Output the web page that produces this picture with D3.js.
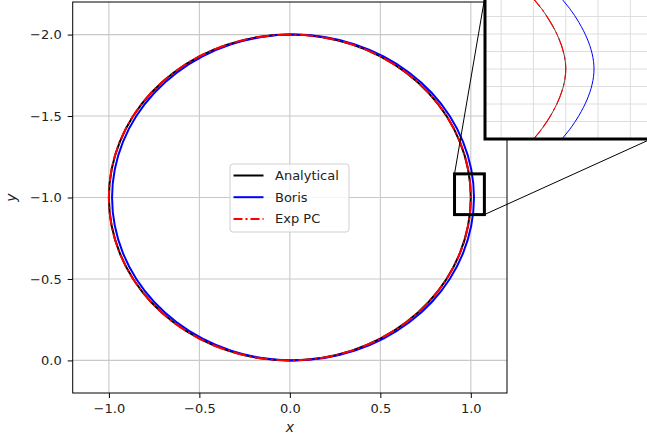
<head>
  <meta charset="utf-8">
  <script src="https://cdnjs.cloudflare.com/ajax/libs/d3/7.8.5/d3.min.js"></script>
  <style>
    body { margin: 0; background: #fff; }
    text { font-family: "DejaVu Sans", sans-serif; fill: #222; }
  </style>
</head>
<body>
<script>
  // trajectories (points every 10 degrees round the orbit)
  const analyticalX = [1, 0.9848, 0.9397, 0.8660, 0.7660, 0.6428, 0.5, 0.3420, 0.1736, 0, -0.1736, -0.3420, -0.5, -0.6428, -0.7660, -0.8660, -0.9397, -0.9848,
    -1, -0.9848, -0.9397, -0.8660, -0.7660, -0.6428, -0.5, -0.3420, -0.1736, 0, 0.1736, 0.3420, 0.5, 0.6428, 0.7660, 0.8660, 0.9397, 0.9848];
  const analyticalY = [-1, -0.8264, -0.6580, -0.5, -0.3572, -0.2340, -0.1340, -0.0603, -0.0152, 0, -0.0152, -0.0603, -0.1340, -0.2340, -0.3572, -0.5, -0.6580, -0.8264,
    -1, -1.1736, -1.3420, -1.5, -1.6428, -1.7660, -1.8660, -1.9397, -1.9848, -2, -1.9848, -1.9397, -1.8660, -1.7660, -1.6428, -1.5, -1.3420, -1.1736];

  const borisX = [1.0175, 1.0023, 0.9572, 0.8835, 0.7835, 0.6603, 0.5175, 0.3595, 0.1911, 0.0175, -0.1561, -0.3245, -0.4825, -0.6253, -0.7485, -0.8485, -0.9222, -0.9673,
    -0.9825, -0.9673, -0.9222, -0.8485, -0.7485, -0.6253, -0.4825, -0.3245, -0.1561, 0.0175, 0.1911, 0.3595, 0.5175, 0.6603, 0.7835, 0.8835, 0.9572, 1.0023];
  const borisY = [-1, -0.8264, -0.6580, -0.5, -0.3572, -0.2340, -0.1340, -0.0603, -0.0152, 0, -0.0152, -0.0603, -0.1340, -0.2340, -0.3572, -0.5, -0.6580, -0.8264,
    -1, -1.1736, -1.3420, -1.5, -1.6428, -1.7660, -1.8660, -1.9397, -1.9848, -2, -1.9848, -1.9397, -1.8660, -1.7660, -1.6428, -1.5, -1.3420, -1.1736];

  const expX = [1, 0.9848, 0.9397, 0.8660, 0.7660, 0.6428, 0.5, 0.3420, 0.1736, 0, -0.1736, -0.3420, -0.5, -0.6428, -0.7660, -0.8660, -0.9397, -0.9848,
    -1, -0.9848, -0.9397, -0.8660, -0.7660, -0.6428, -0.5, -0.3420, -0.1736, 0, 0.1736, 0.3420, 0.5, 0.6428, 0.7660, 0.8660, 0.9397, 0.9848];
  const expY = [-1, -0.8264, -0.6580, -0.5, -0.3572, -0.2340, -0.1340, -0.0603, -0.0152, 0, -0.0152, -0.0603, -0.1340, -0.2340, -0.3572, -0.5, -0.6580, -0.8264,
    -1, -1.1736, -1.3420, -1.5, -1.6428, -1.7660, -1.8660, -1.9397, -1.9848, -2, -1.9848, -1.9397, -1.8660, -1.7660, -1.6428, -1.5, -1.3420, -1.1736];

  const seriesNames = ["Analytical", "Boris", "Exp PC"];
  const xTicks = [-1.0, -0.5, 0.0, 0.5, 1.0];
  const yTicks = [-2.0, -1.5, -1.0, -0.5, 0.0];
  const insetXGrid = [0.96, 0.98, 1.0, 1.02, 1.04];
  const insetYGrid = [-1.15, -1.1, -1.05, -1.0, -0.95, -0.9, -0.85];
  const zoomBox = [0.91, 1.075, -1.145, -0.895]; // x0, x1, y0, y1

  const w = 647, h = 440;
  const pLeft = 72.7, pRight = 507, pTop = 2, pBottom = 393;

  const svg = d3.select("body").append("svg").attr("width", w).attr("height", h);

  const xScale = d3.scaleLinear().domain([-1.2, 1.2]).range([pLeft, pRight]);
  const yScale = d3.scaleLinear().domain([-2.2, 0.2]).range([pTop, pBottom]);

  const fmt = d => d3.format(".1f")(d).replace("-", "\u2212").replace("\u22120.0", "0.0");

  // grid
  svg.append("g").selectAll("line").data(xTicks).enter().append("line")
    .attr("x1", d => xScale(d)).attr("x2", d => xScale(d))
    .attr("y1", pTop).attr("y2", pBottom)
    .attr("stroke", "#c8c8c8").attr("stroke-width", 1.1);
  svg.append("g").selectAll("line").data(yTicks).enter().append("line")
    .attr("y1", d => yScale(d)).attr("y2", d => yScale(d))
    .attr("x1", pLeft).attr("x2", pRight)
    .attr("stroke", "#c8c8c8").attr("stroke-width", 1.1);

  svg.append("clipPath").attr("id", "mainclip").append("rect")
    .attr("x", pLeft).attr("y", pTop).attr("width", pRight - pLeft).attr("height", pBottom - pTop);

  const pts = (xs, ys) => xs.map((x, i) => [x, ys[i]]);
  const series = [
    { pts: pts(analyticalX, analyticalY), color: "#000000", dash: null, iw: 0.7 },
    { pts: pts(borisX, borisY), color: "#0000ff", dash: null, iw: 1 },
    { pts: pts(expX, expY), color: "#ff0000", dash: "13.3,3.3,2.1,3.3", iw: 1.1 }
  ];

  function drawCurves(g, xs, ys, lw, dashScale, inset) {
    const line = d3.line().x(d => xs(d[0])).y(d => ys(d[1])).curve(d3.curveCatmullRomClosed);
    series.forEach(s => {
      g.append("path")
        .attr("d", line(s.pts))
        .attr("fill", "none")
        .attr("stroke", s.color)
        .attr("stroke-width", inset ? s.iw : lw)
        .attr("stroke-dasharray", s.dash ? s.dash.split(",").map(v => +v * dashScale).join(",") : null);
    });
  }

  const plot = svg.append("g").attr("clip-path", "url(#mainclip)");
  drawCurves(plot, xScale, yScale, 2, 1, false);

  // axes
  const xAxis = d3.axisBottom(xScale).tickValues(xTicks).tickFormat(fmt).tickSize(5).tickPadding(6);
  const yAxis = d3.axisLeft(yScale).tickValues(yTicks).tickFormat(fmt).tickSize(5).tickPadding(6);

  const gx = svg.append("g").attr("transform", "translate(0," + pBottom + ")").call(xAxis);
  const gy = svg.append("g").attr("transform", "translate(" + pLeft + ",0)").call(yAxis);
  [gx, gy].forEach(g => {
    g.select(".domain").remove();
    g.selectAll("line").attr("stroke", "#000").attr("stroke-width", 1);
    g.selectAll("text").attr("font-size", 13).attr("font-family", "DejaVu Sans").attr("fill", "#222");
  });

  svg.append("rect")
    .attr("x", pLeft).attr("y", pTop).attr("width", pRight - pLeft).attr("height", pBottom - pTop)
    .attr("fill", "none").attr("stroke", "#000").attr("stroke-width", 1);

  svg.append("text").attr("x", (pLeft + pRight) / 2).attr("y", 432)
    .attr("text-anchor", "middle").attr("font-size", 14).attr("font-style", "italic").text("x");
  svg.append("text").attr("transform", "translate(16," + yScale(-1) + ") rotate(-90)")
    .attr("text-anchor", "middle").attr("font-size", 14).attr("font-style", "italic").text("y");

  // legend
  const leg = svg.append("g");
  leg.append("rect").attr("x", 230).attr("y", 164).attr("width", 119).attr("height", 68)
    .attr("rx", 3).attr("fill", "#fff").attr("fill-opacity", 0.8)
    .attr("stroke", "#d0d0d0").attr("stroke-width", 1);
  series.forEach((s, i) => {
    const yy = 175.5 + i * 21.7;
    leg.append("line").attr("x1", 233.5).attr("x2", 263.5).attr("y1", yy).attr("y2", yy)
      .attr("stroke", s.color).attr("stroke-width", 2)
      .attr("stroke-dasharray", s.dash ? "9,3,2,3" : null);
    leg.append("text").attr("x", 275).attr("y", yy).attr("dy", "0.35em")
      .attr("font-size", 13).text(seriesNames[i]);
  });

  // zoom box on main axes
  const bx0 = xScale(zoomBox[0]), bx1 = xScale(zoomBox[1]);
  const by0 = yScale(zoomBox[2]), by1 = yScale(zoomBox[3]);
  svg.append("rect").attr("x", bx0).attr("y", by0).attr("width", bx1 - bx0).attr("height", by1 - by0)
    .attr("fill", "none").attr("stroke", "#000").attr("stroke-width", 3);

  // inset
  const iL = 485, iR = 651, iT = -4, iB = 139;
  const ixScale = d3.scaleLinear().domain([0.95, 1.05]).range([485, 646.5]);
  const iyScale = d3.scaleLinear().domain([-1.2, -0.8]).range([-1, 139]);

  svg.append("line").attr("x1", bx0).attr("y1", by0).attr("x2", iL).attr("y2", iT)
    .attr("stroke", "#000").attr("stroke-width", 1);
  svg.append("line").attr("x1", bx1).attr("y1", by1).attr("x2", iR).attr("y2", iB)
    .attr("stroke", "#000").attr("stroke-width", 1);

  svg.append("clipPath").attr("id", "insetclip").append("rect")
    .attr("x", iL).attr("y", iT).attr("width", iR - iL).attr("height", iB - iT);
  const inset = svg.append("g").attr("clip-path", "url(#insetclip)");
  inset.append("rect").attr("x", iL).attr("y", iT).attr("width", iR - iL).attr("height", iB - iT).attr("fill", "#fff");
  inset.selectAll(".ivx").data(insetXGrid).enter().append("line")
    .attr("x1", d => ixScale(d)).attr("x2", d => ixScale(d)).attr("y1", iT).attr("y2", iB)
    .attr("stroke", "#dedede").attr("stroke-width", 1);
  inset.selectAll(".ivy").data(insetYGrid).enter().append("line")
    .attr("y1", d => iyScale(d)).attr("y2", d => iyScale(d)).attr("x1", iL).attr("x2", iR)
    .attr("stroke", "#dedede").attr("stroke-width", 1);
  drawCurves(inset, ixScale, iyScale, 1, 1.2, true);

  svg.append("rect").attr("x", iL).attr("y", iT).attr("width", iR - iL).attr("height", iB - iT)
    .attr("fill", "none").attr("stroke", "#000").attr("stroke-width", 3);
</script>
</body>
